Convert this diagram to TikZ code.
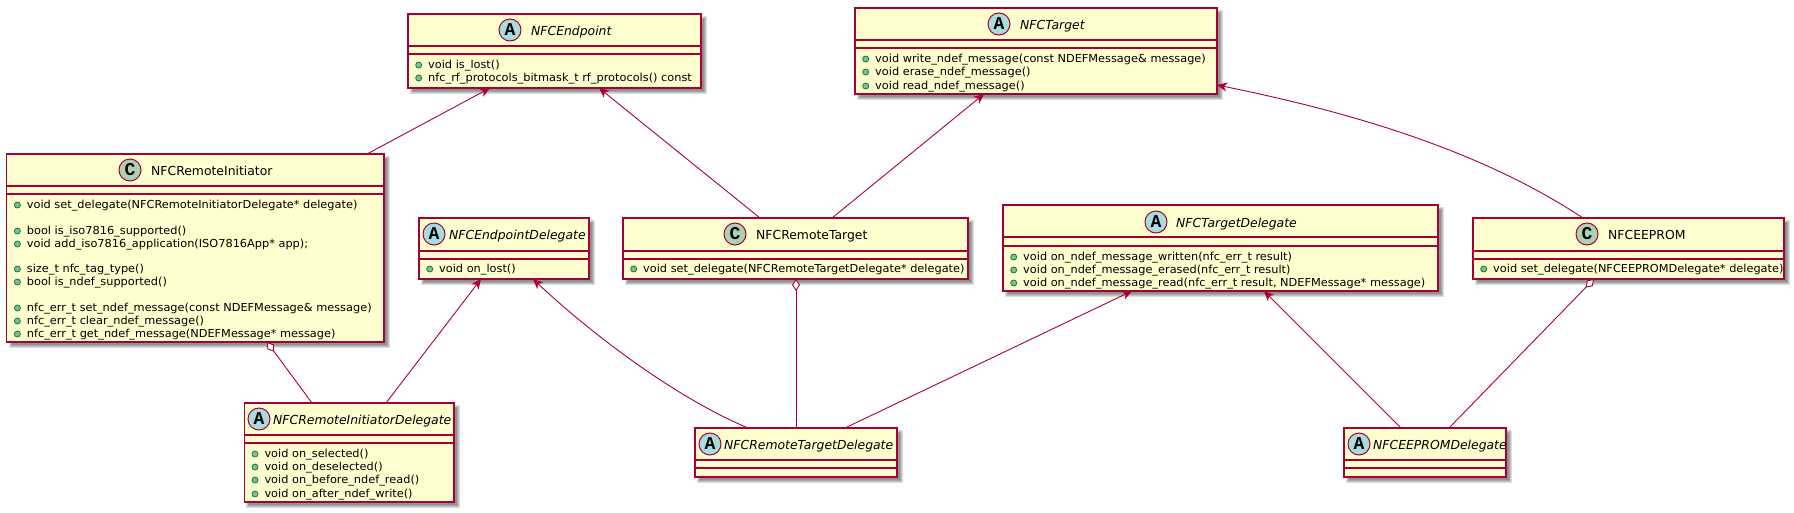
\documentclass[tikz,border=0pt]{standalone}
\usepackage{fontspec}
\setmainfont{DejaVu Sans}
\newfontfamily\spotfont{Liberation Mono}
\newfontfamily\memfont[FakeStretch=1.03]{DejaVu Sans}
\usetikzlibrary{arrows.meta}
\definecolor{umlred}{HTML}{A80036}
\definecolor{umlfill}{HTML}{FEFECE}
\definecolor{spotA}{HTML}{A9DCDF}
\definecolor{spotC}{HTML}{ADD1B2}
\definecolor{dotfill}{HTML}{84BE84}
\definecolor{dotline}{HTML}{038048}
\tikzset{
  umlbox/.style={draw=umlred,fill=umlfill,line width=1.2pt,inner sep=0pt,outer sep=0pt,anchor=north west},
  cmp/.style={draw=umlred,line width=1.2pt},
  spotc/.style={circle,draw=umlred,line width=1pt,minimum size=22pt,inner sep=0pt,font=\spotfont\bfseries\fontsize{18}{18}\selectfont,text=black},
  titletext/.style={anchor=base west,inner sep=0pt,font=\fontsize{12.4}{14}\selectfont},
  abstitle/.style={anchor=base west,inner sep=0pt,font=\itshape\fontsize{12.4}{14}\selectfont},
  memtext/.style={anchor=base west,inner sep=0pt,font=\memfont\fontsize{11}{11}\selectfont},
  dot/.style={draw=dotline,fill=dotfill,line width=.8pt},
  rel/.style={draw=umlred,line width=.9pt},
  inh/.style={rel,{Stealth[length=10pt,width=9pt,inset=3pt,fill=umlred]}-},
  agg/.style={rel,{Diamond[length=12pt,width=8pt,fill=white]}-},
}
\newcounter{memc}
\newcommand{\umlc}[7]{%
  \foreach \w in {2,1,0,-1}{\fill[black,opacity=.13] (#2+4-\w,#3+4-\w) rectangle (#4+4+\w,#5+4+\w);}
  \node[umlbox,minimum width={(#4-#2)*1pt},minimum height={(#5-#3)*1pt}] (#1) at (#2,#3) {};
  \draw[cmp] ([yshift=-#6pt]#1.north west) -- ([yshift=-#6pt]#1.north east);
  \draw[cmp] ([yshift=-#7pt]#1.north west) -- ([yshift=-#7pt]#1.north east);
}
\newcommand{\spotA}[5]{%
  \node[spotc,fill=spotA] (#1-s) at (#2,#3) {A};
  \node[abstitle] (#1-t) at (#4,#3+5) {#5};
}
\newcommand{\spotC}[5]{%
  \node[spotc,fill=spotC] (#1-s) at (#2,#3) {C};
  \node[titletext] (#1-t) at (#4,#3+5) {#5};
}
\newcommand{\mem}[3]{%
  \stepcounter{memc}%
  \draw[dot] (#1+10.7,#2+1) circle (3pt);
  \node[memtext] (m\thememc) at (#1+20,#2+4) {#3};
}
\begin{document}
\begin{tikzpicture}[x=1pt,y=-1pt]
\useasboundingbox (0,0) rectangle (1794,512);
% classes
\umlc{ep}{408}{14}{701}{88}{32}{40}
\spotA{ep}{510}{30}{531}{NFCEndpoint}
\mem{408}{64}{void is\_lost()}
\mem{408}{77}{nfc\_rf\_protocols\_bitmask\_t rf\_protocols() const}

\umlc{tg}{855}{8}{1217}{94}{32}{40}
\spotA{tg}{999}{24}{1020}{NFCTarget}
\mem{855}{58}{void write\_ndef\_message(const NDEFMessage\& message)}
\mem{855}{71}{void erase\_ndef\_message()}
\mem{855}{85}{void read\_ndef\_message()}

\umlc{ri}{6.7}{154}{384}{342}{32}{40}
\spotC{ri}{130}{170}{151}{NFCRemoteInitiator}
\mem{6.7}{204}{void set\_delegate(NFCRemoteInitiatorDelegate* delegate)}
\mem{6.7}{230}{bool is\_iso7816\_supported()}
\mem{6.7}{243}{void add\_iso7816\_application(ISO7816App* app);}
\mem{6.7}{268}{size\_t nfc\_tag\_type()}
\mem{6.7}{281}{bool is\_ndef\_supported()}
\mem{6.7}{307}{nfc\_err\_t set\_ndef\_message(const NDEFMessage\& message)}
\mem{6.7}{320}{nfc\_err\_t clear\_ndef\_message()}
\mem{6.7}{333}{nfc\_err\_t get\_ndef\_message(NDEFMessage* message)}

\umlc{ed}{419}{218}{589}{279}{33}{41}
\spotA{ed}{434}{234}{449}{NFCEndpointDelegate}
\mem{419}{268}{void on\_lost()}

\umlc{rt}{623}{218}{968}{279}{33}{41}
\spotC{rt}{735}{234}{756}{NFCRemoteTarget}
\mem{623}{268}{void set\_delegate(NFCRemoteTargetDelegate* delegate)}

\umlc{td}{1003}{205}{1438}{291}{32}{41}
\spotA{td}{1156}{222}{1176}{NFCTargetDelegate}
\mem{1003}{256}{void on\_ndef\_message\_written(nfc\_err\_t result)}
\mem{1003}{269}{void on\_ndef\_message\_erased(nfc\_err\_t result)}
\mem{1003}{282}{void on\_ndef\_message\_read(nfc\_err\_t result, NDEFMessage* message)}

\umlc{ee}{1473}{218}{1784}{279}{33}{41}
\spotC{ee}{1587}{234}{1608}{NFCEEPROM}
\mem{1473}{268}{void set\_delegate(NFCEEPROMDelegate* delegate)}

\umlc{rd}{244.3}{403}{454}{502}{32}{40}
\spotA{rd}{259}{419}{273}{NFCRemoteInitiatorDelegate}
\mem{244.3}{453}{void on\_selected()}
\mem{244.3}{466}{void on\_deselected()}
\mem{244.3}{479}{void on\_before\_ndef\_read()}
\mem{244.3}{493}{void on\_after\_ndef\_write()}

\umlc{tdl}{695}{428}{897}{477}{32}{40}
\spotA{tdl}{710}{444}{724}{NFCRemoteTargetDelegate}

\umlc{edl}{1344}{428}{1506}{477}{32}{40}
\spotA{edl}{1359}{444}{1373}{NFCEEPROMDelegate}

% connectors
\draw[inh] ([xshift=82pt]ep.south west) -- ([xshift=360.3pt]ri.north west);
\draw[inh] ([xshift=191pt]ep.south west) -- ([xshift=137pt]rt.north west);
\draw[inh] ([xshift=129pt]tg.south west) -- ([xshift=209pt]rt.north west);
\draw[inh] ([yshift=9pt]tg.south east) .. controls ([xshift=133pt,yshift=-18pt]tg.south east) and ([xshift=7pt,yshift=68pt]ee.north west) .. ([xshift=110pt]ee.north west);
\draw[agg] ([xshift=260.3pt]ri.south west) -- ([xshift=67.7pt]rd.north west);
\draw[inh] ([xshift=62pt]ed.south west) -- ([xshift=141.7pt]rd.north west);
\draw[inh] ([xshift=114pt]ed.south west) .. controls ([xshift=166pt,yshift=-49pt]ed.south west) and ([xshift=-25pt,yshift=33pt]tdl.north west) .. ([xshift=53pt]tdl.north west);
\draw[agg] ([xshift=173pt]rt.south west) -- ([xshift=101pt]tdl.north west);
\draw[inh] ([xshift=129pt]td.south west) -- ([xshift=150pt]tdl.north west);
\draw[inh] ([xshift=261pt]td.south west) -- ([xshift=57pt]edl.north west);
\draw[agg] ([xshift=121pt]ee.south west) -- ([xshift=105pt]edl.north west);
\end{tikzpicture}
\end{document}
